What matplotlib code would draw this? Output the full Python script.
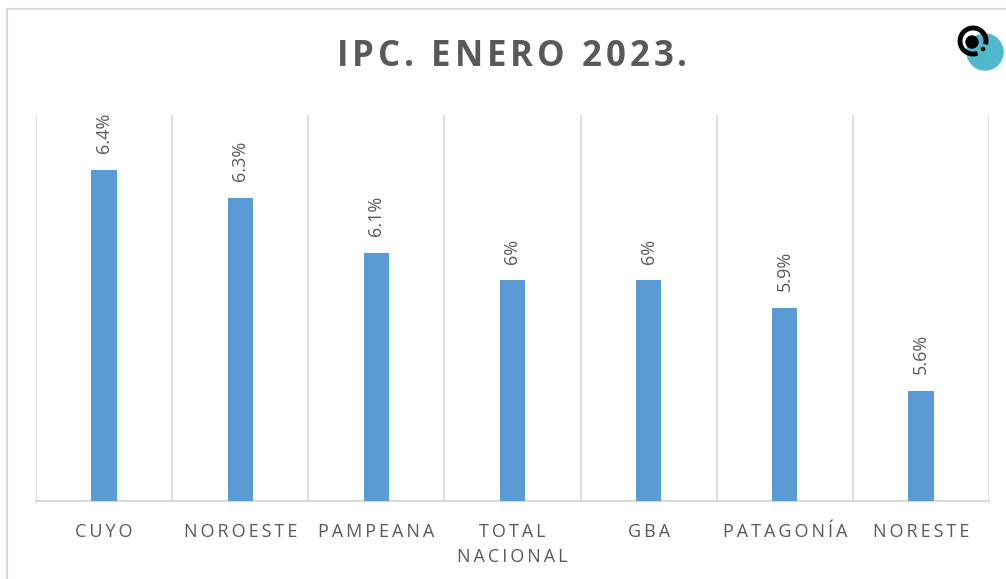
import numpy as np
import matplotlib.pyplot as plt
from matplotlib.patches import Circle, Rectangle, Arc

regiones = ['CUYO', 'NOROESTE', 'PAMPEANA', 'TOTAL\nNACIONAL', 'GBA', 'PATAGONÍA', 'NORESTE']
ipc = [6.4, 6.3, 6.1, 6.0, 6.0, 5.9, 5.6]
etiquetas = ['6.4%', '6.3%', '6.1%', '6%', '6%', '5.9%', '5.6%']
titulo = 'IPC. ENERO 2023.'

plt.rcParams['font.family'] = ['Open Sans', 'DejaVu Sans']
gris = '#595959'
azul = '#5B9BD5'
rejilla = '#D9D9D9'

def espaciar(s, sep='\u2009'):
    # letter spacing a mano
    return '\n'.join(sep.join(list(l)) for l in s.split('\n'))

def texto_espaciado(fig, s, xc, yc, track, **kw):
    # coloca letra por letra, xc/yc en pixeles
    r = fig.canvas.get_renderer()
    def ancho(t):
        tt = fig.text(0, 0, t + 'I', **kw)
        w = tt.get_window_extent(r).width
        tt.remove()
        return w
    wI = ancho('')
    pref = [ancho(s[:i]) - wI for i in range(len(s) + 1)]
    total = pref[-1] + track * (len(s) - 1)
    x0 = xc - total / 2
    W, H = fig.bbox.width, fig.bbox.height
    for i, c in enumerate(s):
        if c == ' ':
            continue
        fig.text((x0 + pref[i] + i * track) / W, 1 - yc / H, c, ha='left', va='center', **kw)

fig = plt.figure(figsize=(10.06, 5.79), dpi=100)
fig.patches.append(Rectangle((7/1006, -0.1), 1.2, 1 - 9/579 + 0.1, transform=fig.transFigure,
                             fill=False, edgecolor='#D9D9D9', linewidth=1.5))

ax = fig.add_axes([36/1006, 1 - 501/579, (989 - 36)/1006, (501 - 115)/579])
x = np.arange(len(regiones))
ax.bar(x, ipc, width=0.185, color=azul, zorder=3)
ax.set_ylim(5.2, 6.6)
ax.set_xlim(-0.5, len(regiones) - 0.5)

for xi, v, t in zip(x, ipc, etiquetas):
    ax.annotate(t, (xi, v), xytext=(0, 12), textcoords='offset points', rotation=90,
                ha='center', va='bottom', fontsize=13, color=gris)

for b in np.arange(-0.5, len(regiones), 1.0):
    ax.axvline(b, color=rejilla, linewidth=1.2, zorder=1)

for s in ['top', 'right', 'left']:
    ax.spines[s].set_visible(False)
ax.spines['bottom'].set_color(rejilla)
ax.spines['bottom'].set_linewidth(1.5)
ax.set_yticks([])
ax.set_xticks(x)
ax.set_xticklabels([espaciar(r) for r in regiones], fontsize=13, color=gris, linespacing=1.45)
ax.tick_params(axis='x', length=0, pad=16)

texto_espaciado(fig, titulo, 512, 57, 4, fontsize=25, fontweight='bold', color=gris)

# logo
lax = fig.add_axes([950/1006, 1 - 75/579, 56/1006, 60/579])
lax.set_xlim(950, 1006); lax.set_ylim(75, 15)
lax.set_aspect('equal')
lax.axis('off')
lax.add_patch(Circle((985, 52), 18, color='#4FB8CC'))
lax.add_patch(Arc((973, 41), 26, 26, theta1=70, theta2=375, edgecolor='black', linewidth=3.5))
lax.add_patch(Circle((972, 42), 6, color='black'))
lax.add_patch(Circle((983, 49), 1.6, color='black'))

fig.savefig('out.png', dpi=100)
